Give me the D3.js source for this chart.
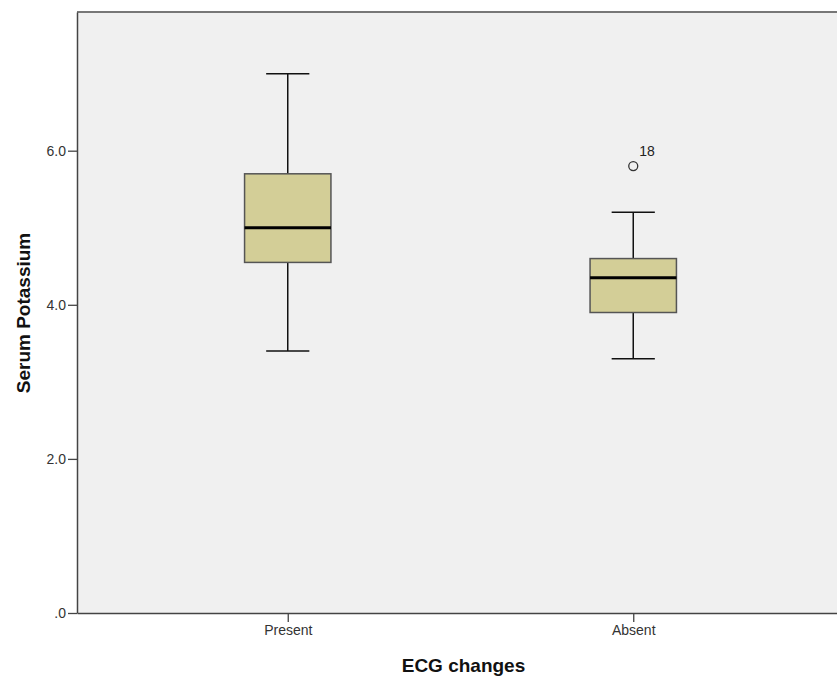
<!DOCTYPE html>
<html><head><meta charset="utf-8">
<script src="https://cdn.jsdelivr.net/npm/d3@7"></script>
<style>body{margin:0;background:#fff}svg{display:block}text{font-family:"Liberation Sans",Arial,sans-serif}</style>
</head><body><svg id="c" width="837" height="677"></svg>
<script>
const categories = ["Present", "Absent"];
const whiskerLow = [3.4, 3.3];
const q1 = [4.55, 3.9];
const median = [5.0, 4.35];
const q3 = [5.7, 4.6];
const whiskerHigh = [7.0, 5.2];
const outlierCat = ["Absent"];
const outlierVal = [5.8];
const outlierLabel = ["18"];
const yTicks = [0, 2, 4, 6];
const yTickLabels = [".0", "2.0", "4.0", "6.0"];
const yMax = 7.8;

const svg = d3.select("#c");
const L = 77, R = 844, T = 12, B = 613;
const x = d3.scalePoint().domain(categories).range([L, R]).padding(0.61);
const y = d3.scaleLinear().domain([0, yMax]).range([B, T]);
const step = x.step();
const boxW = step * 0.25, capW = boxW * 0.5;

svg.append("rect").attr("x", L).attr("y", T).attr("width", R - L).attr("height", B - T).attr("fill", "#f0f0f0");
svg.append("line").attr("x1", L).attr("x2", R).attr("y1", T).attr("y2", T).attr("stroke", "#777").attr("stroke-width", 2);

const data = categories.map((c, i) => ({c, lo: whiskerLow[i], q1: q1[i], med: median[i], q3: q3[i], hi: whiskerHigh[i]}));
const g = svg.append("g");
data.forEach(d => {
  const cx = x(d.c);
  g.append("line").attr("x1", cx).attr("x2", cx).attr("y1", y(d.hi)).attr("y2", y(d.q3)).attr("stroke", "#111").attr("stroke-width", 1.5);
  g.append("line").attr("x1", cx).attr("x2", cx).attr("y1", y(d.q1)).attr("y2", y(d.lo)).attr("stroke", "#111").attr("stroke-width", 1.5);
  g.append("line").attr("x1", cx - capW / 2).attr("x2", cx + capW / 2).attr("y1", y(d.hi)).attr("y2", y(d.hi)).attr("stroke", "#111").attr("stroke-width", 1.5);
  g.append("line").attr("x1", cx - capW / 2).attr("x2", cx + capW / 2).attr("y1", y(d.lo)).attr("y2", y(d.lo)).attr("stroke", "#111").attr("stroke-width", 1.5);
  g.append("rect").attr("x", cx - boxW / 2).attr("y", y(d.q3)).attr("width", boxW).attr("height", y(d.q1) - y(d.q3))
    .attr("fill", "#d3ce97").attr("stroke", "#555").attr("stroke-width", 1.5);
  g.append("line").attr("x1", cx - boxW / 2).attr("x2", cx + boxW / 2).attr("y1", y(d.med)).attr("y2", y(d.med)).attr("stroke", "#000").attr("stroke-width", 3);
});
outlierCat.forEach((c, i) => {
  const cx = x(c), cy = y(outlierVal[i]);
  svg.append("circle").attr("cx", cx).attr("cy", cy).attr("r", 4.5).attr("fill", "none").attr("stroke", "#333").attr("stroke-width", 1.3);
  svg.append("text").attr("x", cx + 6).attr("y", cy - 10).attr("font-size", 14).attr("fill", "#222").text(outlierLabel[i]);
});

const yAxis = svg.append("g").attr("transform", `translate(${L},0)`)
  .call(d3.axisLeft(y).tickValues(yTicks).tickFormat((d, i) => yTickLabels[i]).tickSizeInner(9).tickSizeOuter(0).tickPadding(2));
yAxis.select(".domain").attr("stroke", "#444").attr("stroke-width", 1.5);
yAxis.selectAll(".tick line").attr("stroke", "#444").attr("stroke-width", 1.3);
yAxis.selectAll("text").attr("font-size", 14).attr("fill", "#333").attr("font-family", "Liberation Sans, Arial, sans-serif");

const xAxis = svg.append("g").attr("transform", `translate(0,${B})`)
  .call(d3.axisBottom(x).tickSizeInner(9).tickSizeOuter(0).tickPadding(3));
xAxis.select(".domain").attr("stroke", "#444").attr("stroke-width", 1.5);
xAxis.selectAll(".tick line").attr("stroke", "#444").attr("stroke-width", 1.3);
xAxis.selectAll("text").attr("font-size", 14).attr("fill", "#333").attr("font-family", "Liberation Sans, Arial, sans-serif");

svg.append("text").attr("x", (x(categories[0]) + x(categories[1])) / 2 + 3).attr("y", 672).attr("text-anchor", "middle")
  .attr("font-size", 19).attr("font-weight", "bold").attr("fill", "#111").text("ECG changes");
svg.append("text").attr("transform", "translate(30,313) rotate(-90)").attr("text-anchor", "middle")
  .attr("font-size", 19).attr("font-weight", "bold").attr("fill", "#111").text("Serum Potassium");
</script></body></html>
